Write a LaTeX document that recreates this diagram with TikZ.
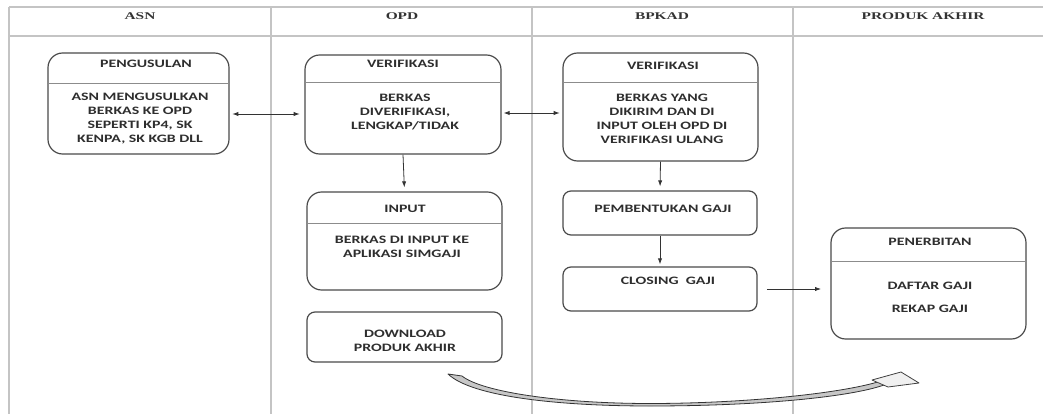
\documentclass[tikz,border=0pt]{standalone}
\usepackage{fontspec}
\usetikzlibrary{fit,arrows.meta}
\newfontfamily\hdrfont{Liberation Serif}[FakeStretch=1.5]
\newfontfamily\boxfont{Carlito}[FakeStretch=1.4]
\definecolor{lane}{HTML}{C4C4C4}
\definecolor{edge}{HTML}{4A4A4A}
\definecolor{txt}{HTML}{2E2E2E}
\definecolor{sepc}{HTML}{8C8C8C}
\begin{document}
\begin{tikzpicture}[x=0.75pt,y=-0.75pt,
  laneline/.style={draw=lane, line width=1.1pt},
  box/.style={draw=edge, line width=0.9pt, rounded corners=11pt, inner sep=0pt},
  sbox/.style={box, rounded corners=6pt},
  ttl/.style={font=\boxfont\bfseries\fontsize{8.5}{10.5}\selectfont, text=txt, inner sep=0pt},
  body/.style={ttl, align=center},
  hdr/.style={font=\hdrfont\bfseries\fontsize{7.7}{10}\selectfont, text=black!80, inner sep=0pt},
  sepline/.style={draw=sepc, line width=0.7pt},
  link/.style={draw=black!80, line width=0.6pt, -{Latex[length=4.5pt,width=3.2pt]}},
  link2/.style={draw=black!80, line width=0.6pt, {Latex[length=4.5pt,width=3.2pt]}-{Latex[length=4.5pt,width=3.2pt]}},
  blockarrow/.style={fill=black!22, draw=black!80, line width=0.6pt, line join=round},
  blockhead/.style={fill=black!6, draw=black!75, line width=0.6pt, line join=round},
]
\useasboundingbox (0,0) rectangle (1043,414);
% lanes
\draw[laneline] (9,7) -- (1043,7);
\draw[laneline] (9,36) -- (1043,36);
\draw[laneline] (9,7) -- (9,414);
\draw[laneline] (271,7) -- (271,414);
\draw[laneline] (532,7) -- (532,414);
\draw[laneline] (793,7) -- (793,414);
% headers
\node[hdr] (hasn) at (140,16) {ASN};
\node[hdr] (hopd) at (402,16) {OPD};
\node[hdr] (hbpkad) at (662,16) {BPKAD};
\node[hdr] (hprod) at (923,16) {PRODUK AKHIR};
% PENGUSULAN
\node[box, fit={(48,53) (229,154)}] (pg) {};
\draw[sepline] (48,83) -- (229,83);
\node[ttl] (pgt) at (146,64) {PENGUSULAN};
\node[body] (pgb) at (140,119) {ASN MENGUSULKAN\\BERKAS KE OPD\\SEPERTI KP4, SK\\KENPA, SK KGB DLL};
% VERIFIKASI OPD
\node[box, fit={(305,55) (501,154)}] (ov) {};
\draw[sepline] (305,82) -- (501,82);
\node[ttl] (ovt) at (403,64) {VERIFIKASI};
\node[body] (ovb) at (405,112.5) {BERKAS\\DIVERIFIKASI,\\LENGKAP/TIDAK};
% VERIFIKASI BPKAD
\node[box, fit={(563,53) (758,161)}] (bv) {};
\draw[sepline] (563,82) -- (758,82);
\node[ttl] (bvt) at (663,66) {VERIFIKASI};
\node[body] (bvb) at (662,119) {BERKAS YANG\\DIKIRIM DAN DI\\INPUT OLEH OPD DI\\VERIFIKASI ULANG};
% INPUT
\node[box, fit={(307,192) (502,290)}] (in) {};
\draw[sepline] (307,223) -- (502,223);
\node[ttl] (int) at (405,209) {INPUT};
\node[body] (inb) at (402,247) {BERKAS DI INPUT KE\\APLIKASI SIMGAJI};
% DOWNLOAD
\node[sbox, fit={(307,312) (502,362)}] (dl) {};
\node[body] (dlb) at (405,340.5) {DOWNLOAD\\PRODUK AKHIR};
% PEMBENTUKAN GAJI
\node[sbox, fit={(563,191) (757,235)}] (pb) {};
\node[ttl] (pbt) at (663,209) {PEMBENTUKAN GAJI};
% CLOSING GAJI
\node[sbox, fit={(563,267) (757,311)}] (cg) {};
\node[ttl] (cgt) at (668,281) {CLOSING\ \ GAJI};
% PENERBITAN
\node[box, fit={(831,228) (1026,339)}] (pn) {};
\draw[sepline] (831,261) -- (1026,261);
\node[ttl] (pnt) at (930,242) {PENERBITAN};
\node[body] (pnb) at (930,297.5) {DAFTAR GAJI\\[6.75pt]REKAP GAJI};
% connectors
\coordinate (r1) at (0,114);
\coordinate (r2) at (0,113);
\draw[link2, shorten <=2pt, shorten >=3.5pt] (pg.east |- r1) -- (ov.west |- r1);
\draw[link2, shorten <=1.5pt, shorten >=2pt] (ov.east |- r2) -- (bv.west |- r2);
\draw[link, shorten >=3pt] (ov.south) -- (in.north);
\draw[link, shorten >=3pt] (bv.south) -- (pb.north);
\draw[link, shorten >=1.5pt] (pb.south) -- (cg.north);
\draw[link, shorten <=7pt, shorten >=7pt] (cg.east) -- (pn.west |- cg.east);
% curved block arrow
\draw[blockarrow]
  (448,374) .. controls (472,397) and (560,406) .. (650,406)
  .. controls (760,406) and (850,397) .. (884,385)
  -- (881,381)
  .. controls (840,394) and (740,403.5) .. (650,403.5)
  .. controls (560,403.5) and (482,392) .. (462,376) -- cycle;
\draw[blockhead] (872,380) -- (901,372) -- (919,383) -- (888,387) -- cycle;
\end{tikzpicture}
\end{document}
